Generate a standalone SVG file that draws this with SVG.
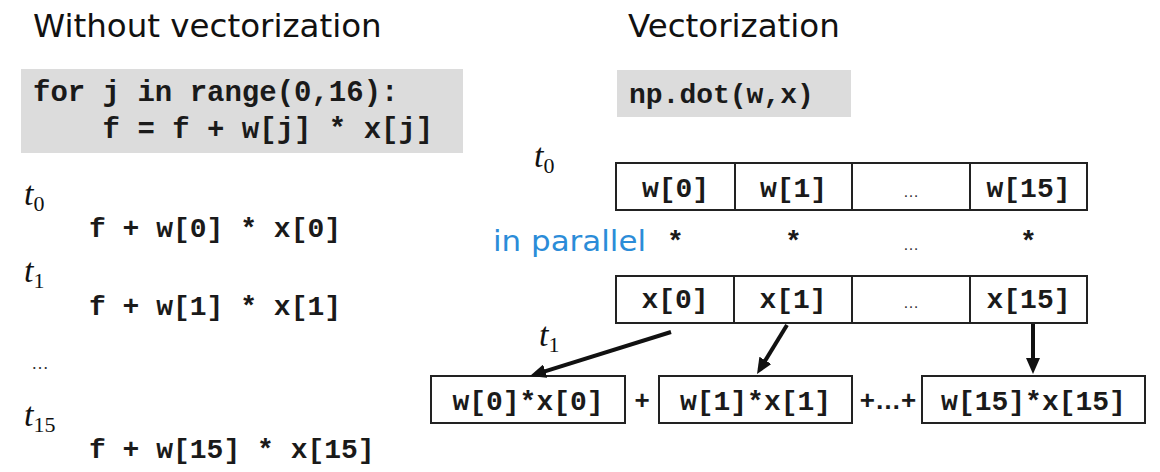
<svg xmlns="http://www.w3.org/2000/svg" width="1160" height="472" viewBox="0 0 1160 472">
  <style>
    .title { font-family: "DejaVu Sans", "Liberation Sans", sans-serif; font-size: 32.5px; fill: #111; }
    .code { font-family: "Liberation Mono", "Courier New", monospace; font-weight: bold; font-size: 29px; fill: #1a1a1a; white-space: pre; }
    .cell { font-family: "Liberation Mono", "Courier New", monospace; font-weight: bold; font-size: 28px; fill: #1a1a1a; text-anchor: middle; }
    .tlab { font-family: "Liberation Serif", "DejaVu Serif", serif; font-style: italic; font-size: 34px; fill: #111; }
    .sub { font-style: normal; font-size: 22px; }
    .dots { font-family: "Liberation Sans", sans-serif; font-size: 16px; fill: #333; text-anchor: middle; }
    .plus { font-family: "Liberation Sans", sans-serif; font-weight: bold; font-size: 26px; fill: #1a1a1a; text-anchor: middle; }
    .codebg { fill: #dcdcdc; }
    .box { fill: #fff; stroke: #222; stroke-width: 2; }
    .div { stroke: #222; stroke-width: 2; }
    .hand { font-family: "DejaVu Sans", "Liberation Sans", sans-serif; font-size: 28px; fill: #2b8cd8; }
    .conn { stroke: #111; stroke-width: 4; fill: none; marker-end: url(#head); }
  </style>
  <defs>
    <marker id="head" markerUnits="userSpaceOnUse" viewBox="0 0 16 14" markerWidth="16" markerHeight="14" refX="8" refY="7" orient="auto">
      <path d="M0,0 L16,7 L0,14 z" fill="#111"/>
    </marker>
  </defs>

  <rect width="1160" height="472" fill="#fff"/>

  <!-- section headings -->
  <g id="title-left"><text class="title" x="33" y="37">Without vectorization</text></g>
  <g id="title-right"><text class="title" x="628" y="37">Vectorization</text></g>

  <!-- sequential loop -->
  <g id="loop-code">
    <rect class="codebg" x="21" y="69" width="442" height="84"/>
    <text class="code" x="33" y="101">for j in range(0,16):</text>
    <text class="code" x="33" y="138">    f = f + w[j] * x[j]</text>
  </g>

  <!-- one step per time slot -->
  <g id="step-t0">
    <text class="tlab" x="24" y="205">t<tspan class="sub" dy="6">0</tspan></text>
    <text class="code" x="89" y="237" style="font-size:28px">f + w[0] * x[0]</text>
  </g>
  <g id="step-t1">
    <text class="tlab" x="24" y="282">t<tspan class="sub" dy="6">1</tspan></text>
    <text class="code" x="89" y="315" style="font-size:28px">f + w[1] * x[1]</text>
  </g>
  <g id="step-dots">
    <text class="dots" x="40" y="369" style="font-size:18px">…</text>
  </g>
  <g id="step-t15">
    <text class="tlab" x="24" y="426">t<tspan class="sub" dy="6">15</tspan></text>
    <text class="code" x="89" y="458" style="font-size:28px">f + w[15] * x[15]</text>
  </g>

  <!-- vectorised call -->
  <g id="dot-code">
    <rect class="codebg" x="617" y="70" width="234" height="47"/>
    <text class="code" x="629" y="103" style="font-size:28px">np.dot(w,x)</text>
  </g>

  <g id="label-t0-right">
    <text class="tlab" x="534" y="167">t<tspan class="sub" dy="6">0</tspan></text>
  </g>

  <!-- w vector -->
  <g id="w-vector">
    <rect class="box" x="616" y="163" width="471" height="47"/>
    <line class="div" x1="735" y1="163" x2="735" y2="210"/>
    <line class="div" x1="852" y1="163" x2="852" y2="210"/>
    <line class="div" x1="970" y1="163" x2="970" y2="210"/>
    <text class="cell" x="675.5" y="197">w[0]</text>
    <text class="cell" x="793.5" y="197">w[1]</text>
    <text class="dots" x="911" y="197">…</text>
    <text class="cell" x="1028.5" y="197">w[15]</text>
  </g>

  <!-- elementwise multiply row -->
  <g id="multiply-row">
    <text class="hand" x="493" y="251" textLength="153" lengthAdjust="spacingAndGlyphs">in parallel</text>
    <text class="cell" x="675.5" y="250">*</text>
    <text class="cell" x="793.5" y="250">*</text>
    <text class="dots" x="911" y="250">…</text>
    <text class="cell" x="1028.5" y="250">*</text>
  </g>

  <!-- x vector -->
  <g id="x-vector">
    <rect class="box" x="616" y="276" width="471" height="47"/>
    <line class="div" x1="734" y1="276" x2="734" y2="323"/>
    <line class="div" x1="852" y1="276" x2="852" y2="323"/>
    <line class="div" x1="970" y1="276" x2="970" y2="323"/>
    <text class="cell" x="675" y="308">x[0]</text>
    <text class="cell" x="793" y="308">x[1]</text>
    <text class="dots" x="911" y="308">…</text>
    <text class="cell" x="1028.5" y="308">x[15]</text>
  </g>

  <g id="label-t1-right">
    <text class="tlab" x="539" y="346">t<tspan class="sub" dy="6">1</tspan></text>
  </g>

  <!-- products and their sum -->
  <g id="prod-0">
    <rect class="box" x="431" y="376" width="194" height="47"/>
    <text class="cell" x="528" y="410">w[0]*x[0]</text>
  </g>
  <g id="plus-1"><text class="plus" x="642" y="409">+</text></g>
  <g id="prod-1">
    <rect class="box" x="659" y="376" width="193" height="47"/>
    <text class="cell" x="755.5" y="410">w[1]*x[1]</text>
  </g>
  <g id="plus-2"><text class="plus" x="888" y="409">+…+</text></g>
  <g id="prod-15">
    <rect class="box" x="922" y="376" width="223" height="47"/>
    <text class="cell" x="1033.5" y="410">w[15]*x[15]</text>
  </g>

  <!-- arrows from x cells to products -->
  <g id="connectors">
    <line class="conn" x1="671" y1="332" x2="537.6" y2="373.6"/>
    <line class="conn" x1="787" y1="325" x2="761.2" y2="367.2"/>
    <line class="conn" x1="1033" y1="324" x2="1033" y2="366"/>
  </g>
</svg>
